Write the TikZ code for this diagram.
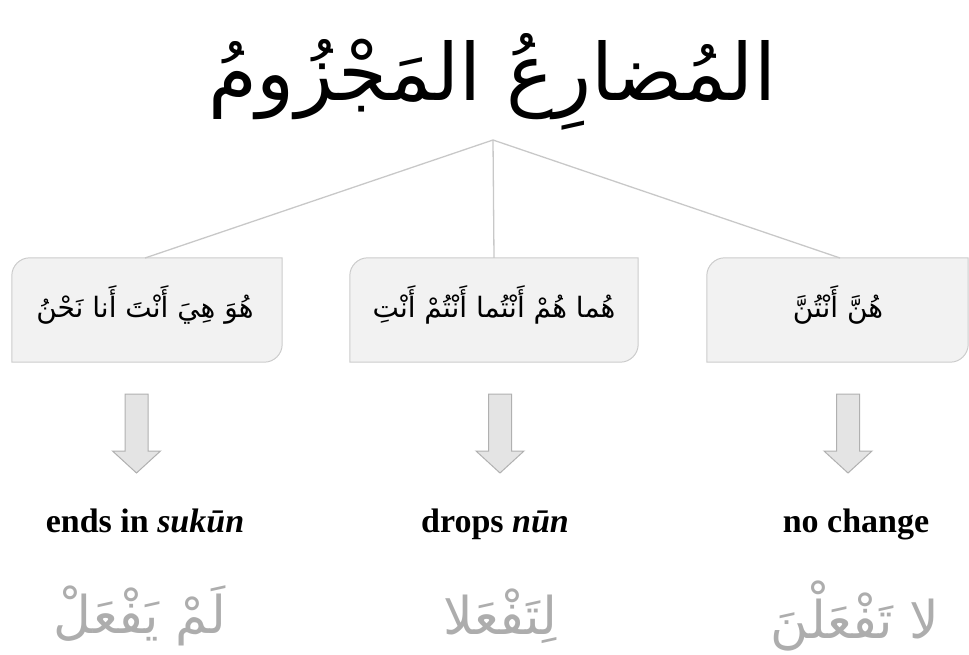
\documentclass[tikz,border=0pt]{standalone}
\usepackage{fontspec}
\setmainfont{Liberation Serif}
\newfontfamily\arabicfont[Script=Arabic]{DejaVu Sans}
\TeXXeTstate=1
\definecolor{linegray}{HTML}{C8C8C8}
\definecolor{boxfill}{HTML}{F2F2F2}
\definecolor{boxline}{HTML}{CCCCCC}
\definecolor{arrfill}{HTML}{E4E4E4}
\definecolor{arrline}{HTML}{B0B0B0}
\definecolor{softgray}{HTML}{ADADAD}
\newcommand\ar[1]{{\arabicfont\beginR #1\endR}}
\begin{document}
\begin{tikzpicture}[x=1pt,y=-1pt,
  conn/.style={draw=linegray,line width=1.3pt},
  boxnode/.style={minimum width=270pt,minimum height=104pt,inner sep=0pt},
  boxoutline/.style={draw=boxline,fill=boxfill,line width=1pt},
  arrowbox/.style={draw=arrline,fill=arrfill,line width=1pt,line join=miter},
  label/.style={font=\fontsize{34}{38}\selectfont\bfseries,anchor=base},
  boxtext/.style={font=\fontsize{28}{32}\selectfont},
  result/.style={font=\fontsize{52}{58}\selectfont,text=softgray},
  title/.style={font=\fontsize{79}{90}\selectfont}]
\useasboundingbox (0,0) rectangle (969,655);

\node[title] (title) at (492,82) {\ar{المُضارِعُ المَجْزُومُ}};
\coordinate (hub) at (493,140);

\node[boxnode,minimum width=270pt] (b1) at (147,310) {};
\node[boxnode,minimum width=288pt] (b2) at (494,310) {};
\node[boxnode,minimum width=261pt] (b3) at (837.5,310) {};

\foreach \b in {b1,b2,b3}{
  \draw[boxoutline] (\b.south west) -- ([yshift=-18pt]\b.north west)
    arc[start angle=180,end angle=90,radius=18pt] -- (\b.north east)
    -- ([yshift=18pt]\b.south east)
    arc[start angle=0,end angle=-90,radius=18pt] -- cycle;
}

\coordinate (t1) at (145,258);
\coordinate (t3) at (840,258);
\draw[conn] (hub) -- (t1);
\draw[conn] (hub) -- (b2.north);
\draw[conn] (hub) -- (t3);

\node[boxtext] (x1) at (145,305) {\ar{هُوَ هِيَ أَنْتَ أَنا نَحْنُ}};
\node[boxtext] (x2) at (494,305) {\ar{هُما هُمْ أَنْتُما أَنْتُمْ أَنْتِ}};
\node[boxtext] (x3) at (838,305) {\ar{هُنَّ أَنْتُنَّ}};

\coordinate (a1) at (136.5,394);
\coordinate (a2) at (500,394);
\coordinate (a3) at (848,394);
\foreach \a in {a1,a2,a3}{
  \draw[arrowbox] ([xshift=-11.5pt]\a) -- ++(0,57) -- ++(-12.5,0) -- ++(24,22)
    -- ++(24,-22) -- ++(-12.5,0) -- ++(0,-57) -- cycle;
}

\node[label] (l1) at (145,532) {ends in \textit{sukūn}};
\node[label] (l2) at (495,532) {drops \textit{nūn}};
\node[label] (l3) at (856,532) {no change};

\node[result] (r1) at (140,616) {\ar{لَمْ يَفْعَلْ}};
\node[result] (r2) at (500,616) {\ar{لِتَفْعَلا}};
\node[result] (r3) at (855,616) {\ar{لا تَفْعَلْنَ}};
\end{tikzpicture}
\end{document}
